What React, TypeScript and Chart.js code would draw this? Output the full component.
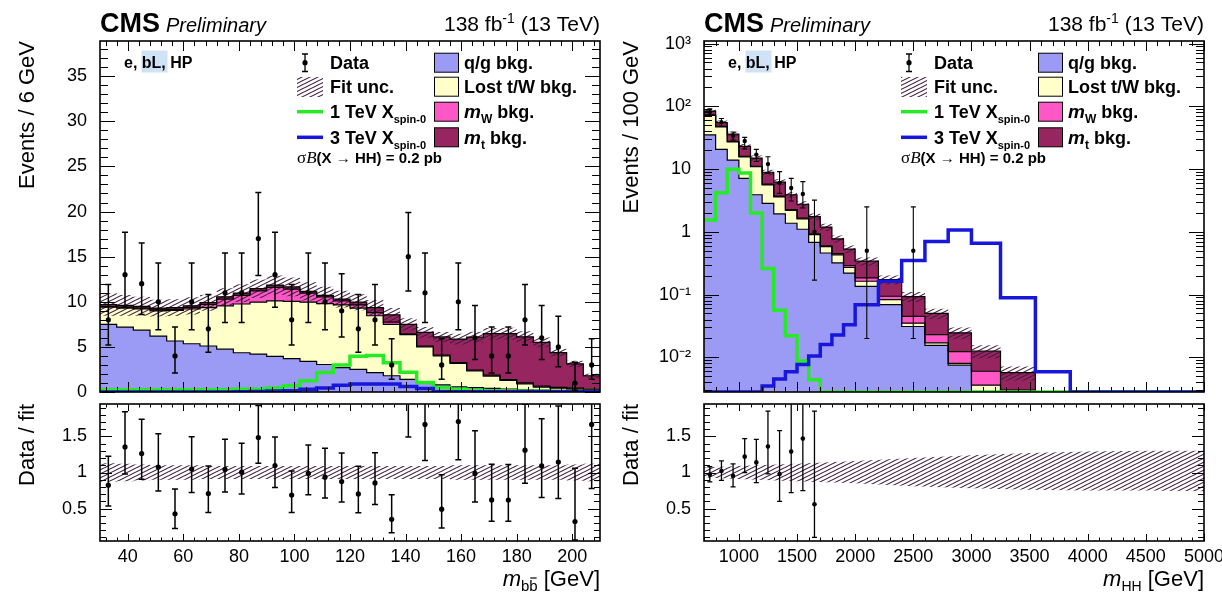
import React, { useEffect, useRef } from "react";
import { Chart, registerables } from "chart.js";

Chart.register(...registerables);

const FONT = "'Liberation Sans', Arial, Helvetica, sans-serif";
const SERIF = "'Liberation Serif', 'DejaVu Serif', serif";
Chart.defaults.font.family = FONT;

// colours
const C_QG = "#9b9bf6";
const C_TW = "#ffffc9";
const C_MW = "#ff58c6";
const C_MT = "#97255f";
const C_SIG1 = "#25ea25";
const C_SIG3 = "#1717dc";

// ---------------- left panel : m_bb ----------------
const mbbEdges = [30, 36, 42, 48, 54, 60, 66, 72, 78, 84, 90, 96, 102, 108, 114, 120, 126, 132, 138, 144, 150, 156, 162, 168, 174, 180, 186, 192, 198, 204, 210];
const mbbQG = [7.5, 7.2, 6.85, 6.2, 5.65, 5.35, 5.1, 4.75, 4.35, 4.2, 3.95, 3.7, 3.4, 3.05, 2.7, 2.5, 2.15, 1.8, 1.4, 1.05, 0.8, 0.56, 0.48, 0.41, 0.33, 0.26, 0.2, 0.17, 0.12, 0.1];
const mbbLostTW = [1.9, 2.1, 2.35, 2.8, 3.4, 3.85, 4.25, 4.8, 5.4, 5.75, 6.15, 6.35, 6.55, 6.75, 6.95, 6.8, 6.3, 5.7, 4.95, 3.95, 3.2, 2.6, 1.85, 1.35, 0.95, 0.65, 0.35, 0.25, 0.2, 0.1];
const mbbMW = [0.1, 0.1, 0.1, 0.1, 0.1, 0.15, 0.35, 0.75, 0.95, 1.25, 1.5, 1.35, 1.0, 0.75, 0.45, 0.35, 0.35, 0.25, 0.1, 0.1, 0.1, 0.1, 0.1, 0.1, 0.1, 0.1, 0.1, 0.1, 0.1, 0.1];
const mbbMt = [0.2, 0.2, 0.2, 0.2, 0.2, 0.2, 0.2, 0.25, 0.25, 0.25, 0.25, 0.25, 0.2, 0.15, 0.2, 0.3, 0.55, 0.8, 1.05, 1.5, 2.0, 2.6, 3.65, 4.6, 5.1, 5.1, 4.85, 3.85, 2.7, 1.5];
const mbbUnc = [0.13, 0.12, 0.11, 0.1, 0.1, 0.1, 0.09, 0.09, 0.09, 0.09, 0.09, 0.09, 0.09, 0.09, 0.09, 0.09, 0.09, 0.09, 0.09, 0.09, 0.09, 0.1, 0.1, 0.1, 0.1, 0.1, 0.1, 0.1, 0.11, 0.12];
const mbbSig1TeV = [0.25, 0.25, 0.25, 0.25, 0.25, 0.25, 0.25, 0.25, 0.3, 0.3, 0.45, 0.7, 1.25, 2.15, 3.0, 3.95, 4.05, 3.25, 2.2, 1.05, 0.5, 0.3, 0.2, 0.15, 0.1, 0.1, 0.1, 0.05, 0.05, 0.05];
const mbbSig3TeV = [0, 0, 0, 0, 0, 0, 0, 0, 0.03, 0.05, 0.1, 0.15, 0.3, 0.45, 0.75, 0.9, 0.9, 0.9, 0.6, 0.4, 0.02, 0.02, 0.02, 0.02, 0.02, 0.02, 0.02, 0.02, 0.02, 0.02];
const mbbData = [8, 13, 12, 10, 4, 10, 7, 11, 11, 17, 13, 8, 11, 10, 9, 7, 8, 3, 15, 11, 3, 10, 6, 4, 4, 8, 6, 5, 1, 3];
const mbbDataLo = [5.2, 9.4, 8.6, 6.9, 2.1, 6.9, 4.4, 7.7, 7.7, 12.9, 9.4, 5.2, 7.7, 6.9, 6.1, 4.4, 5.2, 1.4, 11.2, 7.7, 1.4, 6.9, 3.6, 2.1, 2.1, 5.2, 3.6, 2.8, 0.2, 1.4];
const mbbDataHi = [11.9, 17.7, 16.5, 14.3, 7.2, 14.3, 10.8, 15.4, 15.4, 22.1, 17.7, 11.9, 15.4, 14.3, 13.1, 10.8, 11.9, 5.9, 19.9, 15.4, 5.9, 14.3, 9.6, 7.2, 7.2, 11.9, 9.6, 8.4, 3.3, 5.9];

// ---------------- right panel : m_HH ----------------
const mhhEdges = [700, 800, 900, 1000, 1100, 1200, 1300, 1400, 1500, 1600, 1700, 1800, 1900, 2000, 2200, 2400, 2600, 2800, 3000, 3250, 3550];
const mhhQG = [35, 20.6, 13.9, 7.1, 3.9, 2.85, 1.93, 1.37, 1.1, 0.68, 0.46, 0.32, 0.22, 0.135, 0.069, 0.031, 0.0155, 0.0075, 0.001, 0.0005];
const mhhLostTW = [37, 26.4, 13.1, 8.6, 7.0, 2.75, 1.67, 0.83, 0.5, 0.22, 0.12, 0.11, 0.05, 0.028, 0.014, 0.004, 0.0015, 0.0005, 0.0026, 0.0015];
const mhhMW = [1.5, 1, 0.6, 0.3, 0.2, 0.15, 0.1, 0.07, 0.05, 0.03, 0.02, 0.02, 0.02, 0.021, 0.011, 0.01, 0.006, 0.0043, 0.0024, 0.001];
const mhhMt = [10.5, 7, 8.4, 7, 3.9, 3.15, 2.5, 1.63, 1.1, 0.82, 0.59, 0.32, 0.24, 0.156, 0.079, 0.048, 0.027, 0.0123, 0.0066, 0.0027];
const mhhUnc = [0.08, 0.08, 0.09, 0.09, 0.1, 0.1, 0.11, 0.11, 0.12, 0.12, 0.13, 0.13, 0.14, 0.15, 0.16, 0.18, 0.19, 0.21, 0.23, 0.25];
const mhhSigEdges = [700, 800, 900, 1000, 1100, 1200, 1300, 1400, 1500, 1600, 1700, 1800, 1900, 2000, 2200, 2400, 2600, 2800, 3000, 3250, 3550, 3850, 5000];
const mhhSig1TeV = [1.55, 4.2, 9.9, 8.7, 2.0, 0.26, 0.056, 0.022, 0.0087, 0.0044, 0, 0, 0, 0, 0, 0, 0, 0, 0, 0, 0, 0];
const mhhSig3TeV = [0, 0, 0, 0, 0, 0.0035, 0.0045, 0.0059, 0.0077, 0.0105, 0.016, 0.0226, 0.033, 0.069, 0.163, 0.35, 0.7, 1.07, 0.66, 0.089, 0.0059, 0];
const mhhDataX = [750, 850, 950, 1050, 1150, 1250, 1350, 1450, 1550, 1650, 2100, 2500];
const mhhData = [81, 56, 34, 28, 17, 12, 6, 5, 4, 1, 0.5, 0.5];
const mhhDataLo = [72, 48, 29, 21, 13.2, 8.5, 4.1, 3.1, 2.4, 0.17, 0.02, 0.02];
const mhhDataHi = [91, 64, 39, 32, 20.6, 15.7, 9.1, 7.1, 6.3, 3.2, 2.5, 2.5];
const mhhRatioX = [750, 850, 950, 1050, 1150, 1250, 1350, 1450, 1550, 1650];
const mhhRatio = [0.97, 1.02, 0.95, 1.22, 1.14, 1.36, 0.98, 1.29, 1.47, 0.56];
const mhhRatioLo = [0.87, 0.89, 0.8, 1.0, 0.86, 0.98, 0.6, 0.72, 0.75, 0.1];
const mhhRatioHi = [1.08, 1.16, 1.12, 1.47, 1.46, 1.85, 1.58, 2.0, 2.2, 1.85];
const mhhBandX = [700, 1000, 1500, 2000, 2500, 3000, 3500, 4000, 4500, 5000];
const mhhBandLo = [0.93, 0.91, 0.88, 0.85, 0.81, 0.78, 0.76, 0.75, 0.75, 0.74];
const mhhBandHi = [1.07, 1.09, 1.12, 1.16, 1.2, 1.24, 1.27, 1.29, 1.3, 1.3];

// tick values and labels
const mbbXTicks = [40, 60, 80, 100, 120, 140, 160, 180, 200];
const mhhXTicks = [1000, 1500, 2000, 2500, 3000, 3500, 4000, 4500, 5000];
const mbbYTicks = [0, 5, 10, 15, 20, 25, 30, 35];
const ratioYTicks = [0.5, 1, 1.5];
const logYTicks = [0.01, 0.1, 1, 10, 100, 1000];
const logYLabels = ["10\u207b\u00b2", "10\u207b\u00b9", "1", "10", "10\u00b2", "10\u00b3"];
const LOG_MIN = 0.0028;
const LOG_MAX = 1100;
const CATEGORY_LABEL = "e, bL, HP";
const legendCol2 = ["q/g bkg.", "Lost t/W bkg."];

type Pt = { x: number; y: number };

function hist(edges: number[], vals: number[], floor: number | null, drop: boolean): Pt[] {
  const f = (v: number) => (floor !== null ? Math.max(v, floor) : v);
  const pts = vals.map((v, i) => ({ x: edges[i], y: f(v) }));
  pts.push({ x: edges[vals.length], y: f(vals[vals.length - 1]) });
  if (drop) pts.push({ x: edges[vals.length], y: floor !== null ? floor : 0 });
  return pts;
}

function cumulate(arrs: number[][]): number[][] {
  return arrs.map((_, k) => arrs[0].map((__, i) => arrs.slice(0, k + 1).reduce((s, a) => s + a[i], 0)));
}

function makeHatch(): any {
  const c = document.createElement("canvas");
  c.width = 8;
  c.height = 4;
  const g = c.getContext("2d")!;
  g.strokeStyle = "rgba(62,28,62,1)";
  g.lineWidth = 1.1;
  g.beginPath();
  for (const off of [-4, 0, 4]) {
    g.moveTo(-8, 8 + off);
    g.lineTo(16, -4 + off);
  }
  g.stroke();
  return g.createPattern(c, "repeat");
}

const errorBarPlugin = {
  id: "errBars",
  afterDatasetsDraw(chart: any) {
    const { ctx, chartArea: a } = chart;
    const ys = chart.scales.y;
    chart.data.datasets.forEach((ds: any, i: number) => {
      if (!ds.errLo) return;
      const meta = chart.getDatasetMeta(i);
      ctx.save();
      ctx.beginPath();
      ctx.rect(a.left, a.top, a.right - a.left, a.bottom - a.top);
      ctx.clip();
      ctx.strokeStyle = "#000";
      ctx.lineWidth = ds.errWidth;
      ctx.beginPath();
      meta.data.forEach((el: any, j: number) => {
        const x = el.x;
        const y1 = ys.getPixelForValue(ds.errLo[j]);
        const y2 = ys.getPixelForValue(ds.errHi[j]);
        ctx.moveTo(x, y1);
        ctx.lineTo(x, y2);
        ctx.moveTo(x - ds.errCap, y1);
        ctx.lineTo(x + ds.errCap, y1);
        ctx.moveTo(x - ds.errCap, y2);
        ctx.lineTo(x + ds.errCap, y2);
      });
      ctx.stroke();
      ctx.restore();
    });
  },
};

const framePlugin = {
  id: "rootFrame",
  afterDatasetsDraw(chart: any, _a: any, o: any) {
    if (!o || !o.xMinor) return;
    const { ctx, chartArea: a } = chart;
    const xs = chart.scales.x;
    const ys = chart.scales.y;
    const steps = (min: number, max: number, step: number) => {
      const out: number[] = [];
      for (let k = Math.ceil(min / step - 1e-6); k * step <= max + 1e-6; k++) out.push(k * step);
      return out;
    };
    const isMult = (v: number, m: number) => Math.abs(v / m - Math.round(v / m)) < 1e-6;
    ctx.save();
    ctx.strokeStyle = "#000";
    ctx.lineWidth = 1;
    ctx.beginPath();
    for (const v of steps(xs.min, xs.max, o.xMinor)) {
      const p = Math.round(xs.getPixelForValue(v)) + 0.5;
      const len = isMult(v, o.xMajor) ? o.xLenMaj : o.xLenMin;
      ctx.moveTo(p, a.bottom);
      ctx.lineTo(p, a.bottom - len);
      ctx.moveTo(p, a.top);
      ctx.lineTo(p, a.top + len);
    }
    const yv: [number, boolean][] = [];
    if (o.log) {
      for (let e = Math.floor(Math.log10(ys.min)); e <= Math.ceil(Math.log10(ys.max)); e++) {
        for (let m = 1; m <= 9; m++) {
          const v = m * Math.pow(10, e);
          if (v >= ys.min && v <= ys.max) yv.push([v, m === 1]);
        }
      }
    } else {
      for (const v of steps(ys.min, ys.max, o.yMinor)) yv.push([v, isMult(v, o.yMajor)]);
    }
    for (const [v, maj] of yv) {
      const p = Math.round(ys.getPixelForValue(v)) + 0.5;
      const len = maj ? o.yLenMaj : o.yLenMin;
      ctx.moveTo(a.left, p);
      ctx.lineTo(a.left + len, p);
      ctx.moveTo(a.right, p);
      ctx.lineTo(a.right - len, p);
    }
    ctx.stroke();
    ctx.lineWidth = 1.6;
    ctx.strokeRect(a.left, a.top, a.right - a.left, a.bottom - a.top);
    ctx.restore();
  },
};

type Part = { t: string; f: string; dy?: number; over?: boolean };
function drawRich(ctx: CanvasRenderingContext2D, parts: Part[], x: number, y: number, align: "left" | "right") {
  ctx.textAlign = "left";
  ctx.textBaseline = "alphabetic";
  const widths = parts.map((p) => {
    ctx.font = p.f;
    return ctx.measureText(p.t).width;
  });
  const total = widths.reduce((s, w) => s + w, 0);
  let cx = align === "right" ? x - total : x;
  parts.forEach((p, i) => {
    ctx.font = p.f;
    const yy = y + (p.dy || 0);
    ctx.fillText(p.t, cx, yy);
    if (p.over) {
      ctx.save();
      ctx.lineWidth = 1.2;
      ctx.strokeStyle = ctx.fillStyle as string;
      ctx.beginPath();
      ctx.moveTo(cx + 1, yy - 13);
      ctx.lineTo(cx + widths[i] - 1, yy - 13);
      ctx.stroke();
      ctx.restore();
    }
    cx += widths[i];
  });
}

function drawTopDecor(ctx: CanvasRenderingContext2D, L: number, R: number, hatch: any) {
  ctx.save();
  ctx.fillStyle = "#000";
  ctx.textAlign = "left";
  ctx.textBaseline = "alphabetic";
  ctx.font = `bold 27px ${FONT}`;
  ctx.fillText("CMS", L, 31.5);
  ctx.font = `italic 20px ${FONT}`;
  ctx.fillText("Preliminary", L + 66, 31.5);
  drawRich(ctx, [
    { t: "138 fb", f: `21px ${FONT}` },
    { t: "-1", f: `14px ${FONT}`, dy: -8 },
    { t: " (13 TeV)", f: `21px ${FONT}` },
  ], R, 30.5, "right");

  // category label
  ctx.fillStyle = "#cfe2f6";
  ctx.fillRect(L + 41.5, 50.5, 26, 22);
  ctx.fillStyle = "#000";
  ctx.font = `bold 16px ${FONT}`;
  ctx.fillText(CATEGORY_LABEL, L + 24, 68.3);

  // legend column 1
  const rows = [62.7, 86.7, 111.7, 137.3];
  const sx = L + 197;
  const sw = 26;
  const tx = L + 230;
  const mx = L + 205;
  ctx.strokeStyle = "#000";
  ctx.lineWidth = 1.3;
  ctx.beginPath();
  ctx.moveTo(mx, 54);
  ctx.lineTo(mx, 71.5);
  ctx.moveTo(mx - 3, 54);
  ctx.lineTo(mx + 3, 54);
  ctx.moveTo(mx - 3, 71.5);
  ctx.lineTo(mx + 3, 71.5);
  ctx.stroke();
  ctx.beginPath();
  ctx.arc(mx, rows[0], 2.6, 0, Math.PI * 2);
  ctx.fill();
  ctx.fillStyle = hatch;
  ctx.fillRect(sx, 77, sw, 20);
  ctx.lineWidth = 3.5;
  ctx.strokeStyle = C_SIG1;
  ctx.beginPath();
  ctx.moveTo(sx, rows[2]);
  ctx.lineTo(sx + sw, rows[2]);
  ctx.stroke();
  ctx.strokeStyle = C_SIG3;
  ctx.beginPath();
  ctx.moveTo(sx, rows[3]);
  ctx.lineTo(sx + sw, rows[3]);
  ctx.stroke();

  ctx.fillStyle = "#000";
  const B18 = `bold 18px ${FONT}`;
  ctx.font = B18;
  ctx.fillText("Data", tx, rows[0] + 6.3);
  ctx.fillText("Fit unc.", tx, rows[1] + 6.3);
  drawRich(ctx, [{ t: "1 TeV X", f: B18 }, { t: "spin-0", f: `bold 11px ${FONT}`, dy: 5 }], tx, rows[2] + 6.3, "left");
  drawRich(ctx, [{ t: "3 TeV X", f: B18 }, { t: "spin-0", f: `bold 11px ${FONT}`, dy: 5 }], tx, rows[3] + 6.3, "left");
  drawRich(ctx, [
    { t: "\u03c3", f: `17px ${SERIF}` },
    { t: "B", f: `italic 17px ${SERIF}` },
    { t: "(X \u2192 HH) = 0.2 pb", f: `bold 15px ${FONT}` },
  ], sx, 163, "left");

  // legend column 2
  const bx = L + 334;
  const cols = [C_QG, C_TW, C_MW, C_MT];
  cols.forEach((c, i) => {
    ctx.fillStyle = c;
    ctx.fillRect(bx, rows[i] - 9.5, 24, 19);
    ctx.strokeStyle = "#000";
    ctx.lineWidth = 1;
    ctx.strokeRect(bx + 0.5, rows[i] - 9.5, 24, 19);
  });
  ctx.fillStyle = "#000";
  const t2 = L + 364;
  ctx.font = B18;
  ctx.fillText(legendCol2[0], t2, rows[0] + 6.3);
  ctx.fillText(legendCol2[1], t2, rows[1] + 6.3);
  drawRich(ctx, [{ t: "m", f: `bold italic 19px ${FONT}` }, { t: "W", f: `bold 12px ${FONT}`, dy: 5 }, { t: " bkg.", f: B18 }], t2, rows[2] + 6.3, "left");
  drawRich(ctx, [{ t: "m", f: `bold italic 19px ${FONT}` }, { t: "t", f: `bold 12px ${FONT}`, dy: 5 }, { t: " bkg.", f: B18 }], t2, rows[3] + 6.3, "left");
  ctx.restore();
}

function stackDatasets(edges: number[], comps: number[][], unc: number[], floor: number | null, drop: boolean, hatch: any) {
  const cums = cumulate(comps);
  const total = cums[cums.length - 1];
  const colors = [C_QG, C_TW, C_MW, C_MT];
  const ds: any[] = cums.map((c, k) => ({
    data: hist(edges, c, floor, drop),
    stepped: true,
    borderColor: "#000",
    borderWidth: 1.2,
    backgroundColor: colors[k],
    fill: k === 0 ? "start" : "-1",
    pointRadius: 0,
    order: 9 - k,
  }));
  ds.push({
    data: hist(edges, total.map((t, i) => t * (1 - unc[i])), floor, false),
    stepped: true, borderWidth: 0, borderColor: "rgba(0,0,0,0)", fill: false, pointRadius: 0, order: 5,
  });
  ds.push({
    data: hist(edges, total.map((t, i) => t * (1 + unc[i])), floor, false),
    stepped: true, borderWidth: 0, borderColor: "rgba(0,0,0,0)", backgroundColor: hatch, fill: "-1", pointRadius: 0, order: 4,
  });
  return ds;
}

function sigDataset(edges: number[], vals: number[], color: string, floor: number | null, order: number) {
  return { data: hist(edges, vals, floor, false), stepped: true, borderColor: color, borderWidth: 3.5, fill: false, pointRadius: 0, order };
}

function dataDataset(xs: number[], ys: number[], lo: number[], hi: number[], radius: number, cap: number, width: number, clip?: number) {
  const d: any = {
    data: xs.map((x, i) => ({ x, y: ys[i] })),
    showLine: false,
    pointRadius: radius,
    pointBackgroundColor: "#000",
    pointBorderColor: "#000",
    pointBorderWidth: 0,
    order: 0,
    errLo: lo,
    errHi: hi,
    errCap: cap,
    errWidth: width,
  };
  if (clip !== undefined) d.clip = clip;
  return d;
}

const tickFont = { size: 18, family: FONT };
const titleFont = { size: 22, family: FONT };

const fixedTicks = (vals: number[]) => (s: any) => {
  s.ticks = vals.map((v) => ({ value: v }));
};

function yAxisCommon(title: string, tickVals: number[], labels?: string[]) {
  return {
    bounds: "data",
    afterFit: (s: any) => {
      s.width = 100;
      s.paddingTop = 0;
      s.paddingBottom = 0;
    },
    afterBuildTicks: fixedTicks(tickVals),
    grid: { display: false },
    border: { display: false },
    ticks: {
      autoSkip: false, color: "#000", font: tickFont, padding: 5,
      callback: (v: any, i: number) => (labels ? labels[i] : String(v)),
    },
    title: { display: true, text: title, align: "end", color: "#000", font: titleFont, padding: { top: 15, bottom: 0 } },
  };
}

function xAxisRatio(min: number, max: number, tickVals: number[]) {
  return {
    type: "linear",
    bounds: "data",
    min,
    max,
    afterFit: (s: any) => {
      s.height = 53;
      s.paddingLeft = 0;
      s.paddingRight = 0;
    },
    afterBuildTicks: fixedTicks(tickVals),
    grid: { display: false },
    border: { display: false },
    ticks: { autoSkip: false, maxRotation: 0, minRotation: 0, color: "#000", font: tickFont, padding: -3, callback: (v: any) => String(v) },
  };
}

function baseOptions(padding: any, scales: any, frame: any) {
  return {
    responsive: false,
    animation: false,
    events: [],
    layout: { padding },
    plugins: {
      legend: { display: false },
      tooltip: { enabled: false },
      filler: { drawTime: "beforeDatasetsDraw", propagate: false },
      rootFrame: frame,
    },
    scales,
  };
}

export default function App() {
  const r1 = useRef<HTMLCanvasElement>(null);
  const r2 = useRef<HTMLCanvasElement>(null);
  const r3 = useRef<HTMLCanvasElement>(null);
  const r4 = useRef<HTMLCanvasElement>(null);

  useEffect(() => {
    const hatch = makeHatch();

    // derived ratio values for the left panel
    const mbbTotal = mbbQG.map((_, i) => mbbQG[i] + mbbLostTW[i] + mbbMW[i] + mbbMt[i]);
    const mbbCenters = mbbData.map((_, i) => (mbbEdges[i] + mbbEdges[i + 1]) / 2);
    const mbbRatio = mbbData.map((d, i) => d / mbbTotal[i]);
    const mbbRatioLo = mbbDataLo.map((d, i) => d / mbbTotal[i]);
    const mbbRatioHi = mbbDataHi.map((d, i) => d / mbbTotal[i]);

    const decor = (L: number, R: number) => ({
      id: "decor",
      afterDraw(chart: any) {
        drawTopDecor(chart.ctx, L, R, hatch);
      },
    });
    const xTitle = (parts: Part[], R: number) => ({
      id: "xtitle",
      afterDraw(chart: any) {
        const ctx = chart.ctx;
        ctx.save();
        ctx.fillStyle = "#000";
        drawRich(ctx, parts, R, 586, "right");
        ctx.restore();
      },
    });

    // ---------- top left ----------
    const c1 = new Chart(r1.current!, {
      type: "line",
      data: {
        datasets: [
          ...stackDatasets(mbbEdges, [mbbQG, mbbLostTW, mbbMW, mbbMt], mbbUnc, null, false, hatch),
          sigDataset(mbbEdges, mbbSig1TeV, C_SIG1, null, 2),
          sigDataset(mbbEdges, mbbSig3TeV, C_SIG3, null, 1),
          dataDataset(mbbCenters, mbbData, mbbDataLo, mbbDataHi, 2.6, 3, 1.5),
        ],
      },
      options: baseOptions(
        { left: 0, right: 622, top: 41, bottom: 202 },
        {
          x: { type: "linear", display: false, min: 30, max: 210 },
          y: { type: "linear", min: 0, max: 38.9, ...yAxisCommon("Events / 6 GeV", mbbYTicks) },
        },
        { xMinor: 4, xMajor: 20, yMinor: 1, yMajor: 5, xLenMaj: 10, xLenMin: 5, yLenMaj: 15, yLenMin: 8 }
      ) as any,
      plugins: [errorBarPlugin, framePlugin, decor(100, 600)],
    } as any);

    // ---------- bottom left (ratio) ----------
    const c2 = new Chart(r2.current!, {
      type: "line",
      data: {
        datasets: [
          { data: hist(mbbEdges, mbbUnc.map((u) => 1 - u), null, false), stepped: true, borderWidth: 0, borderColor: "rgba(0,0,0,0)", fill: false, pointRadius: 0, order: 4 },
          { data: hist(mbbEdges, mbbUnc.map((u) => 1 + u), null, false), stepped: true, borderWidth: 0, borderColor: "rgba(0,0,0,0)", backgroundColor: hatch, fill: "-1", pointRadius: 0, order: 3 },
          dataDataset(mbbCenters, mbbRatio, mbbRatioLo, mbbRatioHi, 2.6, 3, 1.5, 0),
        ],
      },
      options: baseOptions(
        { left: 0, right: 622, top: 404, bottom: 0 },
        {
          x: xAxisRatio(30, 210, mbbXTicks),
          y: { type: "linear", min: 0.05, max: 1.95, ...yAxisCommon("Data / fit", ratioYTicks) },
        },
        { xMinor: 4, xMajor: 20, yMinor: 0.1, yMajor: 0.5, xLenMaj: 7, xLenMin: 3.5, yLenMaj: 12, yLenMin: 6 }
      ) as any,
      plugins: [errorBarPlugin, framePlugin, xTitle([
        { t: "m", f: `italic 22px ${FONT}` },
        { t: "b", f: `15px ${FONT}`, dy: 5 },
        { t: "b", f: `15px ${FONT}`, dy: 5, over: true },
        { t: " [GeV]", f: `22px ${FONT}` },
      ], 600)],
    } as any);

    // ---------- top right ----------
    const c3 = new Chart(r3.current!, {
      type: "line",
      data: {
        datasets: [
          ...stackDatasets(mhhEdges, [mhhQG, mhhLostTW, mhhMW, mhhMt], mhhUnc, LOG_MIN, true, hatch),
          sigDataset(mhhSigEdges, mhhSig1TeV, C_SIG1, LOG_MIN, 2),
          sigDataset(mhhSigEdges, mhhSig3TeV, C_SIG3, LOG_MIN, 1),
          dataDataset(mhhDataX, mhhData, mhhDataLo, mhhDataHi, 2.2, 2.5, 1.1),
        ],
      },
      options: baseOptions(
        { left: 604, right: 18, top: 41, bottom: 202 },
        {
          x: { type: "linear", display: false, min: 700, max: 5000 },
          y: { type: "logarithmic", min: LOG_MIN, max: LOG_MAX, ...yAxisCommon("Events / 100 GeV", logYTicks, logYLabels) },
        },
        { xMinor: 100, xMajor: 500, log: true, xLenMaj: 10, xLenMin: 5, yLenMaj: 15, yLenMin: 8 }
      ) as any,
      plugins: [errorBarPlugin, framePlugin, decor(704, 1204)],
    } as any);

    // ---------- bottom right (ratio) ----------
    const c4 = new Chart(r4.current!, {
      type: "line",
      data: {
        datasets: [
          { data: mhhBandX.map((x, i) => ({ x, y: mhhBandLo[i] })), borderWidth: 0, borderColor: "rgba(0,0,0,0)", fill: false, pointRadius: 0, order: 4 },
          { data: mhhBandX.map((x, i) => ({ x, y: mhhBandHi[i] })), borderWidth: 0, borderColor: "rgba(0,0,0,0)", backgroundColor: hatch, fill: "-1", pointRadius: 0, order: 3 },
          dataDataset(mhhRatioX, mhhRatio, mhhRatioLo, mhhRatioHi, 2.3, 2.5, 1.3, 0),
        ],
      },
      options: baseOptions(
        { left: 604, right: 18, top: 404, bottom: 0 },
        {
          x: xAxisRatio(700, 5000, mhhXTicks),
          y: { type: "linear", min: 0.05, max: 1.95, ...yAxisCommon("Data / fit", ratioYTicks) },
        },
        { xMinor: 100, xMajor: 500, yMinor: 0.1, yMajor: 0.5, xLenMaj: 7, xLenMin: 3.5, yLenMaj: 12, yLenMin: 6 }
      ) as any,
      plugins: [errorBarPlugin, framePlugin, xTitle([
        { t: "m", f: `italic 22px ${FONT}` },
        { t: "HH", f: `14px ${FONT}`, dy: 5 },
        { t: " [GeV]", f: `22px ${FONT}` },
      ], 1204)],
    } as any);

    return () => {
      c1.destroy();
      c2.destroy();
      c3.destroy();
      c4.destroy();
    };
  }, []);

  const cs: React.CSSProperties = { position: "absolute", left: 0, top: 0, width: 1222, height: 594 };
  return (
    <div style={{ position: "absolute", left: 0, top: 0, width: 1222, height: 594, background: "#fff" }}>
      <canvas ref={r1} width={1222} height={594} style={cs} />
      <canvas ref={r2} width={1222} height={594} style={cs} />
      <canvas ref={r3} width={1222} height={594} style={cs} />
      <canvas ref={r4} width={1222} height={594} style={cs} />
    </div>
  );
}
